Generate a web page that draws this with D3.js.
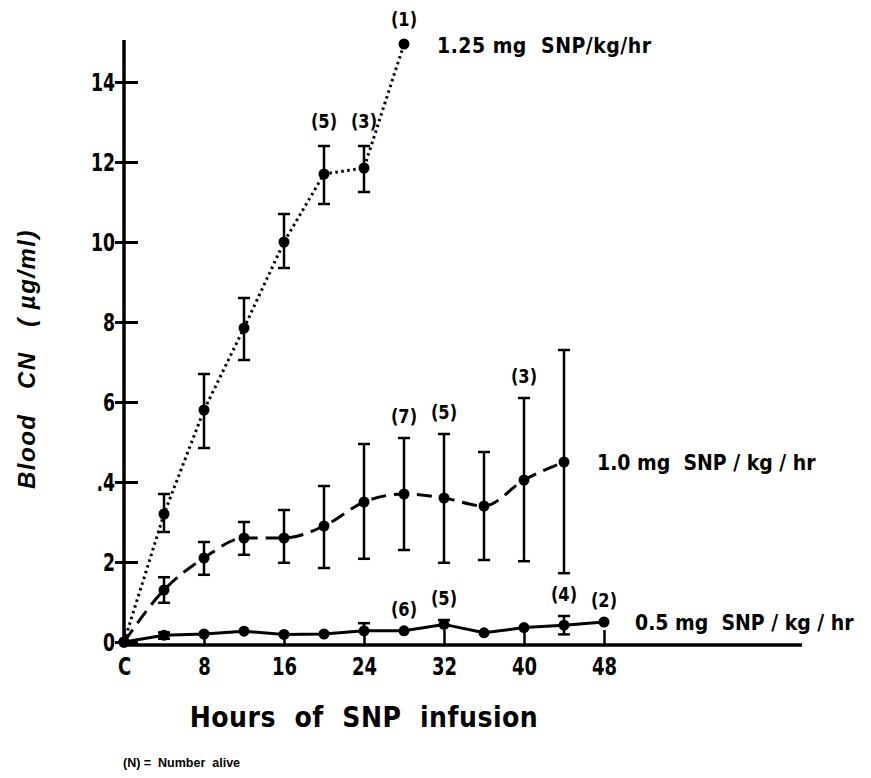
<!DOCTYPE html>
<html>
<head>
<meta charset="utf-8">
<script src="https://cdnjs.cloudflare.com/ajax/libs/d3/7.8.5/d3.min.js"></script>
<style>
body { margin: 0; background: #fff; }
text { font-family: "Liberation Sans Narrow", "DejaVu Sans Condensed", sans-serif; font-weight: bold; fill: #000; white-space: pre; }
</style>
</head>
<body>
<svg id="chart" width="871" height="778"></svg>
<script>
// hours of SNP infusion, 0 = control (C)
var hours = [0, 4, 8, 12, 16, 20, 24, 28, 32, 36, 40, 44, 48];

// 1.25 mg SNP/kg/hr
var dose125   = [0, 3.2, 5.8, 7.85, 10.0, 11.7, 11.85, 14.95];
var dose125Hi = [null, 3.7, 6.7, 8.6, 10.7, 12.4, 12.4, null];
var dose125Lo = [null, 2.75, 4.85, 7.05, 9.35, 10.95, 11.25, null];

// 1.0 mg SNP/kg/hr
var dose100   = [0, 1.3, 2.1, 2.6, 2.6, 2.9, 3.5, 3.7, 3.6, 3.4, 4.05, 4.5];
var dose100Hi = [null, 1.62, 2.5, 3.0, 3.3, 3.9, 4.95, 5.1, 5.2, 4.75, 6.1, 7.3];
var dose100Lo = [null, 0.98, 1.68, 2.18, 1.98, 1.85, 2.08, 2.3, 1.98, 2.05, 2.02, 1.72];

// 0.5 mg SNP/kg/hr
var dose050   = [0, 0.17, 0.2, 0.27, 0.19, 0.2, 0.28, 0.28, 0.44, 0.23, 0.36, 0.42, 0.5];
var dose050Hi = [null, 0.24, null, null, null, null, 0.47, null, 0.55, null, null, 0.65, null];
var dose050Lo = [null, 0.08, null, null, null, null, null, null, null, null, null, 0.19, null];

// (N) = number alive
var alive125Hours = [20, 24, 28], alive125 = [5, 3, 1];
var alive100Hours = [28, 32, 40], alive100 = [7, 5, 3];
var alive050Hours = [28, 32, 44, 48], alive050 = [6, 5, 4, 2];

var doseNames = ["1.25 mg  SNP/kg/hr", "1.0 mg  SNP / kg / hr", "0.5 mg  SNP / kg / hr"];

var yTicks = [0, 2, 4, 6, 8, 10, 12, 14];
var yTickLabels = ["0", "2", ".4", "6", "8", "10", "12", "14"];
var xTicks = [0, 8, 16, 24, 32, 40, 48];
var xTickLabels = ["C", "8", "16", "24", "32", "40", "48"];

var svg = d3.select("#chart");
svg.append("rect").attr("width", 871).attr("height", 778).attr("fill", "#fff");

var x = d3.scaleLinear().domain([0, 48]).range([124, 604]);
var y = d3.scaleLinear().domain([0, 15]).range([642, 42]);
var axisY = 645;
var squeeze = 0.8;   // narrow the tick digits a bit

// y axis
var gy = svg.append("g").attr("transform", "translate(124,0)")
	.call(d3.axisLeft(y).tickValues(yTicks).tickFormat(function (d, i) { return yTickLabels[i]; }).tickSizeOuter(0));
gy.select(".domain").remove();
gy.selectAll(".tick line").attr("x1", -9).attr("x2", 14).attr("stroke", "#000").attr("stroke-width", 3);
gy.selectAll(".tick text").attr("x", -9 / squeeze).attr("dy", "0.36em")
	.attr("transform", "scale(" + squeeze + ",1)")
	.style("font-size", "24px").style("font-family", null);
svg.append("line").attr("x1", 124).attr("x2", 124).attr("y1", 40).attr("y2", axisY + 2)
	.attr("stroke", "#000").attr("stroke-width", 3.5);

// x axis
var gx = svg.append("g").attr("transform", "translate(0," + axisY + ")")
	.call(d3.axisBottom(x).tickValues(xTicks).tickFormat(function (d, i) { return xTickLabels[i]; }).tickSizeOuter(0));
gx.select(".domain").remove();
gx.selectAll(".tick line").attr("y1", 0).attr("y2", -15).attr("stroke", "#000").attr("stroke-width", 2.5);
gx.selectAll(".tick text").attr("y", 30).attr("dy", null)
	.attr("transform", "scale(" + squeeze + ",1)")
	.style("font-size", "25px").style("font-family", null);
svg.append("line").attr("x1", 122).attr("x2", x(67.8)).attr("y1", axisY).attr("y2", axisY)
	.attr("stroke", "#000").attr("stroke-width", 3.5);

function toPoints(vals, hi, lo) {
	return vals.map(function (v, i) { return {h: hours[i], v: v, hi: hi[i], lo: lo[i]}; });
}

function drawSeries(pts, dash, curve, r) {
	var line = d3.line().x(function (d) { return x(d.h); }).y(function (d) { return y(d.v); }).curve(curve);
	svg.append("path").datum(pts).attr("d", line)
		.attr("fill", "none").attr("stroke", "#000").attr("stroke-width", 3)
		.attr("stroke-dasharray", dash);

	var bars = pts.filter(function (d) { return d.hi != null || d.lo != null; });
	var g = svg.append("g").attr("stroke", "#000").attr("stroke-width", 2.5);
	bars.forEach(function (d) {
		var top = d.hi != null ? d.hi : d.v, bot = d.lo != null ? d.lo : d.v;
		g.append("line").attr("x1", x(d.h)).attr("x2", x(d.h)).attr("y1", y(top)).attr("y2", y(bot));
		if (d.hi != null) g.append("line").attr("x1", x(d.h) - 6).attr("x2", x(d.h) + 6).attr("y1", y(top)).attr("y2", y(top));
		if (d.lo != null) g.append("line").attr("x1", x(d.h) - 6).attr("x2", x(d.h) + 6).attr("y1", y(bot)).attr("y2", y(bot));
	});

	svg.append("g").selectAll("circle").data(pts).enter().append("circle")
		.attr("cx", function (d) { return x(d.h); })
		.attr("cy", function (d) { return y(d.v); })
		.attr("r", r).attr("fill", "#000");
}

function drawAlive(pts, hrs, counts, lift) {
	hrs.forEach(function (h, i) {
		var p = pts.filter(function (d) { return d.h === h; })[0];
		var top = p.hi != null ? p.hi : p.v;
		svg.append("text").attr("transform", "translate(" + x(h) + "," + (y(top) - lift) + ") scale(0.9,1)")
			.attr("text-anchor", "middle").style("font-size", "20px")
			.text("(" + counts[i] + ")");
	});
}

var p125 = toPoints(dose125, dose125Hi, dose125Lo);
var p100 = toPoints(dose100, dose100Hi, dose100Lo);
var p050 = toPoints(dose050, dose050Hi, dose050Lo);

drawSeries(p125, "2.5,3.5", d3.curveLinear, 5.5);
drawSeries(p100, "15,8", d3.curveMonotoneX, 5.5);
drawSeries(p050, null, d3.curveLinear, 5.5);

drawAlive(p125, alive125Hours, alive125, 18);
drawAlive(p100, alive100Hours, alive100, 15);
drawAlive(p050, alive050Hours, alive050, 15);

// dose labels
svg.append("text").attr("x", 437).attr("y", 53).style("font-size", "21px").style("letter-spacing", "0.5px").text(doseNames[0]);
svg.append("text").attr("x", 597).attr("y", 470).style("font-size", "21px").text(doseNames[1]);
svg.append("text").attr("x", 635).attr("y", 630).style("font-size", "21px").text(doseNames[2]);

// axis titles
svg.append("text").attr("x", 364).attr("y", 727).attr("text-anchor", "middle")
	.style("font-size", "28px").style("letter-spacing", "0.5px").text("Hours  of  SNP  infusion");
svg.append("text").attr("transform", "translate(35,359) rotate(-90)").attr("text-anchor", "middle")
	.style("font-family", "'Liberation Sans', sans-serif").style("font-style", "italic")
	.style("font-size", "24px").style("letter-spacing", "1.5px").text("Blood   CN   ( µg/ml)");
svg.append("text").attr("x", 123).attr("y", 767)
	.style("font-family", "'Liberation Sans', sans-serif").style("font-size", "12.5px")
	.text("(N) =  Number  alive");
</script>
</body>
</html>
